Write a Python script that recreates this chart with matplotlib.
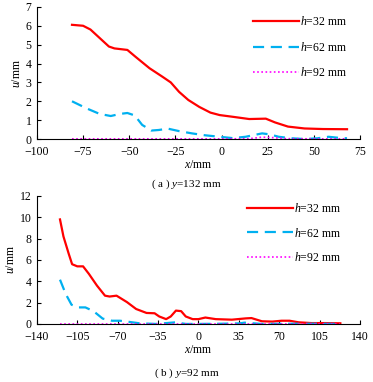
import numpy as np
import matplotlib
matplotlib.use('Agg')
import matplotlib.pyplot as plt

plt.rcParams['font.family'] = ['Liberation Serif', 'Noto Sans CJK SC']
plt.rcParams['mathtext.fontset'] = 'custom'
plt.rcParams['mathtext.rm'] = 'Liberation Serif'
plt.rcParams['mathtext.it'] = 'Liberation Serif:italic'
plt.rcParams['font.size'] = 8.5

# (a) y=132 mm
xa_32 = [-81, -75, -71, -66, -61, -58, -51, -46.5, -39, -32, -27.5, -23, -18, -12, -6, -1, 6, 15, 24, 29, 36, 45, 55, 68]
ua_32 = [6.05, 6.0, 5.8, 5.35, 4.9, 4.8, 4.72, 4.35, 3.75, 3.3, 3.0, 2.5, 2.07, 1.7, 1.4, 1.27, 1.18, 1.06, 1.08, 0.88, 0.66, 0.56, 0.53, 0.52]
xa_62 = [-81, -73, -66, -60, -55, -51, -47, -43, -38, -34, -29, -23, -16, -9, -1, 6, 13, 22, 26, 31, 38, 45, 52, 58, 64, 68]
ua_62 = [2.0, 1.62, 1.33, 1.22, 1.33, 1.38, 1.25, 0.75, 0.45, 0.48, 0.55, 0.42, 0.3, 0.2, 0.12, 0.05, 0.12, 0.3, 0.25, 0.12, 0.04, 0.0, 0.04, 0.12, 0.06, 0.04]
xa_92 = [-81, -60, -40, -20, 0, 15, 22, 27, 35, 50, 68]
ua_92 = [0.01, 0.01, 0.01, 0.01, 0.01, 0.02, 0.1, 0.08, 0.02, 0.01, 0.01]

# (b) y=92 mm
xb_32 = [-120, -117, -112.5, -109.5, -105, -100, -95, -88, -81, -77, -71, -62, -54, -45, -38, -34, -28, -24, -19.5, -15, -11, -5, 0, 6, 15, 29, 41, 46, 55, 64, 72, 79, 87, 98, 110, 123]
ub_32 = [9.8, 8.2, 6.6, 5.6, 5.4, 5.4, 4.7, 3.6, 2.65, 2.57, 2.65, 2.05, 1.4, 1.03, 1.0, 0.7, 0.45, 0.7, 1.25, 1.2, 0.7, 0.45, 0.45, 0.6, 0.45, 0.4, 0.52, 0.55, 0.25, 0.22, 0.3, 0.3, 0.15, 0.08, 0.08, 0.06]
xb_62 = [-120, -115, -110, -104, -98, -91, -83, -75, -68, -62, -51, -37, -20, -11, 0, 20, 35, 40, 45, 55, 75, 100, 123]
ub_62 = [4.15, 2.8, 1.8, 1.55, 1.55, 1.2, 0.5, 0.3, 0.3, 0.22, 0.06, 0.0, 0.15, 0.0, 0.0, 0.02, 0.05, 0.12, 0.08, 0.0, 0.02, 0.02, 0.0]
xb_92 = [-120, -80, -40, 0, 40, 80, 123]
ub_92 = [0.02, 0.02, 0.02, 0.02, 0.02, 0.02, 0.02]

labels = ['$h$=32 mm', '$h$=62 mm', '$h$=92 mm']

fig = plt.figure(figsize=(3.73, 3.82), dpi=100)
ax1 = fig.add_axes([0.099, 0.636, 0.866, 0.346])
ax2 = fig.add_axes([0.099, 0.152, 0.866, 0.335])


def minus_fmt(v, p):
    return ('%d' % v).replace('-', '\u2212')


def draw(ax, x32, u32, x62, u62, x92, u92):
    ax.plot(x32, u32, color='#ff0000', lw=1.6, label=labels[0])
    ax.plot(x62, u62, color='#00b0f0', lw=1.6, dashes=(5, 3), label=labels[1])
    ax.plot(x92, u92, color='#ff00ff', lw=1.2, dashes=(1, 1.5), label=labels[2])
    ax.spines['top'].set_visible(False)
    ax.spines['right'].set_visible(False)
    ax.spines['left'].set_linewidth(0.8)
    ax.spines['bottom'].set_linewidth(0.8)
    ax.tick_params(direction='in', length=3, width=0.8, labelsize=8.5)
    ax.tick_params(axis='x', pad=5)
    ax.tick_params(axis='y', pad=4)
    ax.xaxis.set_major_formatter(matplotlib.ticker.FuncFormatter(minus_fmt))
    ax.set_ylabel('$u$/mm', labelpad=2)
    ax.set_xlabel('$x$/mm', labelpad=1)


draw(ax1, xa_32, ua_32, xa_62, ua_62, xa_92, ua_92)
ax1.set_xlim(-100, 75)
ax1.set_xticks(np.arange(-100, 76, 25))
ax1.set_ylim(0, 7)
ax1.set_yticks(np.arange(0, 8, 1))
ax1.legend(loc='upper left', bbox_to_anchor=(0.669, 0.935), frameon=False,
           handlelength=3.9, handletextpad=0.1, labelspacing=1.05, borderpad=0, borderaxespad=0)

draw(ax2, xb_32, ub_32, xb_62, ub_62, xb_92, ub_92)
ax2.set_xlim(-140, 140)
ax2.set_xticks(np.arange(-140, 141, 35))
ax2.set_ylim(0, 12)
ax2.set_yticks(np.arange(0, 13, 2))
ax2.legend(loc='upper left', bbox_to_anchor=(0.65, 0.955), frameon=False,
           handlelength=3.9, handletextpad=0.1, labelspacing=1.0, borderpad=0, borderaxespad=0)

fig.text(0.5, 1 - 184 / 382., '( a ) $y$=132 mm', ha='center', va='center', fontsize=8)
fig.text(0.5, 1 - 373 / 382., '( b ) $y$=92 mm', ha='center', va='center', fontsize=8)

plt.savefig('out.png', dpi=100)
plt.close()
